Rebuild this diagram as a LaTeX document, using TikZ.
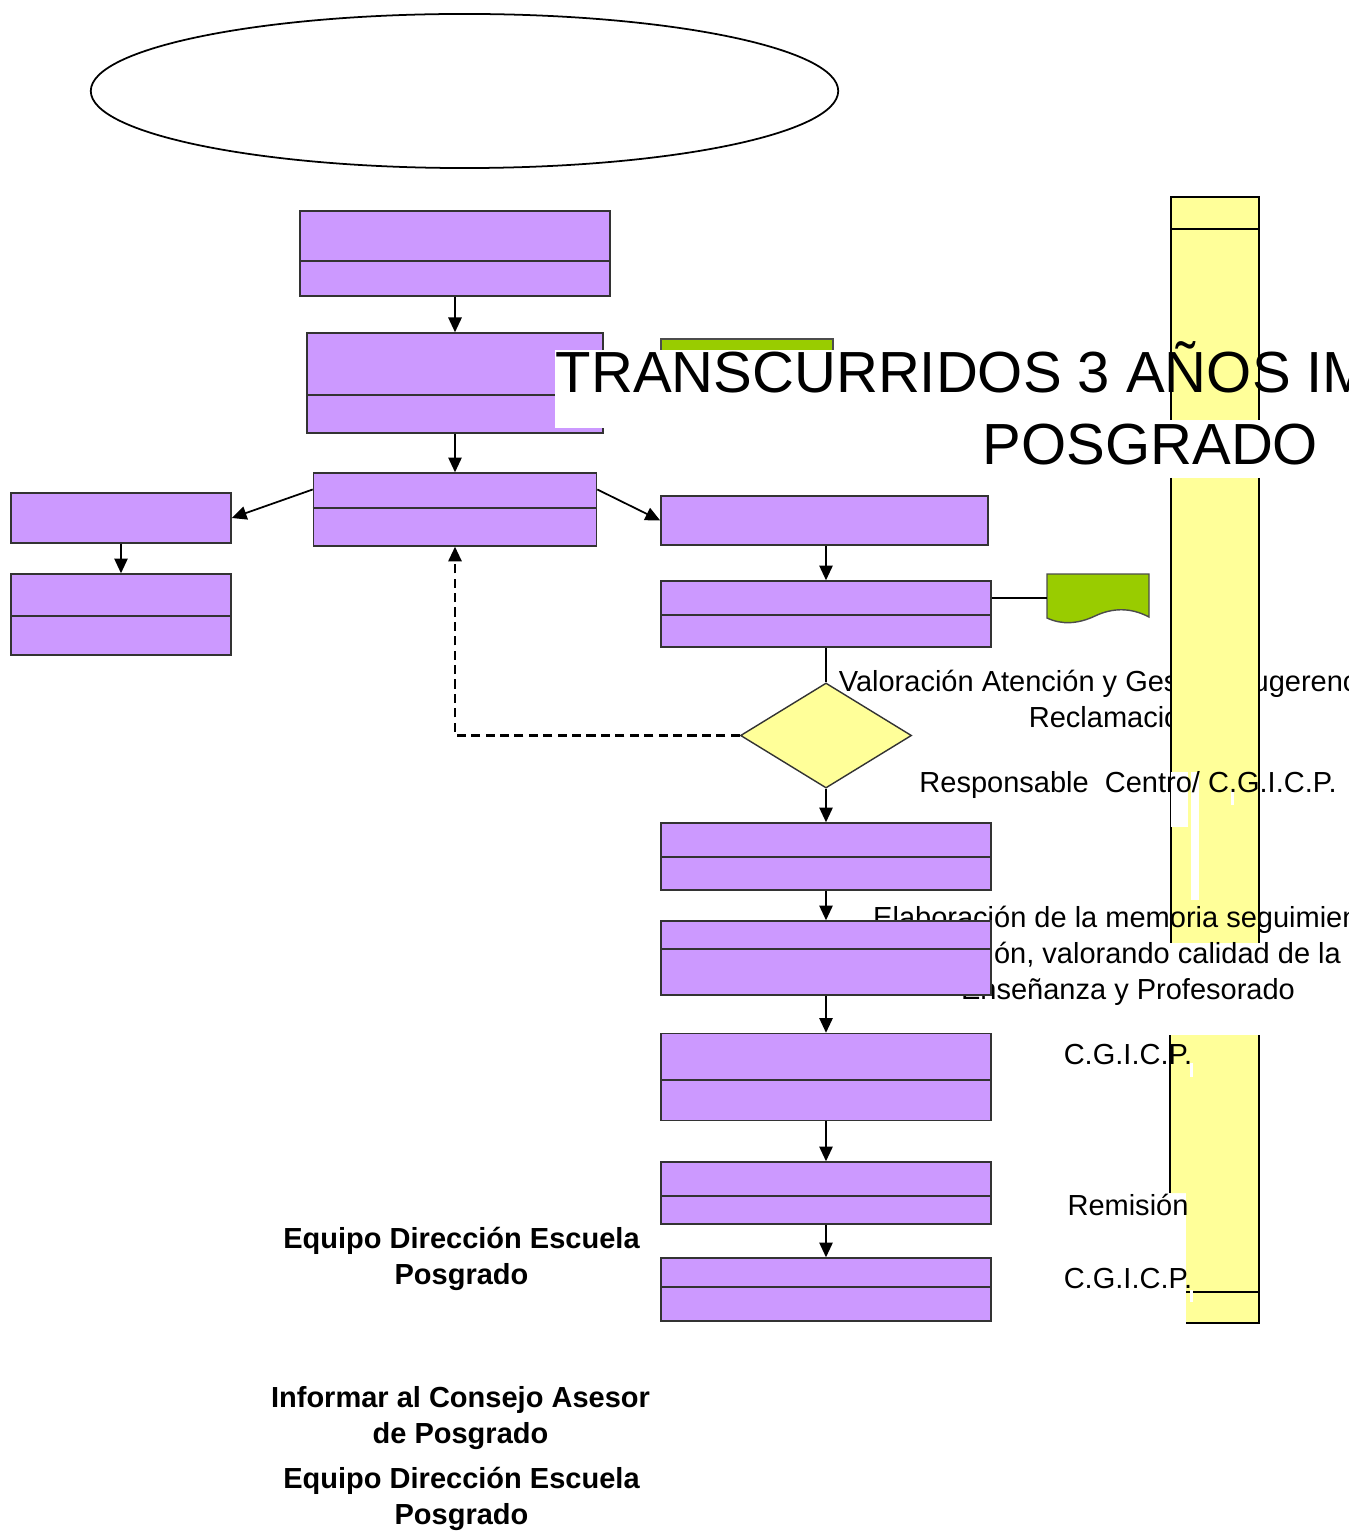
\documentclass[tikz,border=0pt]{standalone}
\usepackage{fontspec}
\setmainfont{Liberation Sans}
\usetikzlibrary{calc,shapes.geometric,arrows.meta}

\definecolor{lila}{HTML}{CC99FF}
\definecolor{amarillo}{HTML}{FFFF99}
\definecolor{verde}{HTML}{99CC00}

\tikzset{
  caja/.style={draw=black!80, fill=lila, line width=0.4pt, inner sep=0pt},
  flecha/.style={-{Triangle[length=4.2pt,width=3.8pt]}, line width=0.5pt},
  txt/.style={font=\fontsize{8.25}{10.1}\selectfont, inner sep=0pt, align=center, anchor=base},
  negrita/.style={txt, font=\fontsize{8.25}{10.1}\selectfont\bfseries},
  titulo/.style={font=\fontsize{16.5}{20.8}\selectfont, inner sep=0pt, anchor=base west},
}

\begin{document}
\begin{tikzpicture}[x=0.01cm, y=-0.01cm]
\useasboundingbox (0,0) rectangle (1348,1531);

% --------- Start ellipse ----------
\draw[line width=0.5pt] (464.5,91) ellipse [x radius=3.735cm, y radius=0.77cm];

% --------- Green tab (mostly hidden by the title) ----------
\fill[verde, draw=black!70, line width=0.4pt] (661,339) rectangle (833,352);

% --------- Upper part of the flow ----------
\node[caja, minimum width=3.10cm, minimum height=0.85cm] (p1) at (455,253.5) {};
\node[caja, minimum width=2.96cm, minimum height=1.00cm] (p2) at (455,383) {};
\node[caja, minimum width=2.83cm, minimum height=0.73cm] (p3) at (455,509.5) {};
\node[caja, minimum width=2.20cm, minimum height=0.50cm] (l1) at (121,518) {};
\node[caja, minimum width=2.20cm, minimum height=0.81cm] (l2) at (121,614.5) {};
\node[caja, minimum width=3.27cm, minimum height=0.49cm] (r1) at (824.5,520.5) {};
\node[caja, minimum width=3.30cm, minimum height=0.66cm] (r2) at (826,614) {};
\node[diamond, draw=black!80, fill=amarillo, line width=0.4pt, inner sep=0pt,
      minimum width=1.71cm, minimum height=1.05cm] (dia) at (826,735.5) {};

\foreach \n/\y in {p1/261, p2/395, p3/508, l2/616, r2/615}
  \draw[black!80, line width=0.4pt] (\n.west |- 0,\y) -- (\n.east |- 0,\y);

\draw[flecha] (p1.south) -- (p2.north);
\draw[flecha] (p2.south) -- (p3.north);
\draw[flecha] ([yshift=0.2cm]p3.west) -- (l1.east);
\draw[flecha] ([yshift=0.2cm]p3.east) -- (r1.west);
\draw[flecha] (l1.south) -- (l2.north);
\draw[flecha] (r1.south -| r2.north) -- (r2.north);
\draw[line width=0.5pt] (r2.south) -- (dia.north);
\draw[flecha, line width=0.6pt, dash pattern=on 2.6pt off 1.5pt] (dia.west) -| (p3.south);

% --------- Document shape beside r2 ----------
\fill[verde, draw=black!70, line width=0.4pt] (1047,574) -- (1149,574) -- (1149,617)
  .. controls (1130,607) and (1112,608) .. (1095,616)
  .. controls (1078,624) and (1062,625) .. (1047,618) -- cycle;
\coordinate (doc) at (1047,598);
\draw[line width=0.5pt] (doc) -- (doc -| r2.east);

% --------- Text lying under the lane ----------
\node[txt] (val) at (1128,727) {Valoración Atención y Gestión Sugerencias y\\Reclamaciones};

% --------- White band of the title ----------
\fill[white] (555,350) rectangle (1348,428);

% --------- Yellow lane (broken in pieces) ----------
\fill[amarillo] (1171,197) rectangle (1259,420);
\draw[line width=0.4pt] (1171,420) -- (1171,197) -- (1259,197) -- (1259,420);
\draw[line width=0.4pt] (1171,229) -- (1259,229);
\fill[amarillo] (1171,478) rectangle (1259,943);
\draw[line width=0.4pt] (1171,478) -- (1171,943) (1259,478) -- (1259,943);
\fill[amarillo] (1170,1035) -- (1259,1035) -- (1259,1323) -- (1186,1323) -- (1186,1193) -- (1170,1193) -- cycle;
\draw[line width=0.4pt] (1170,1035) -- (1170,1193) (1259,1035) -- (1259,1323) -- (1186,1323);
\draw[line width=0.4pt] (1186,1292) -- (1259,1292);

% white gaps left in the lane
\fill[white] (1171,772) rectangle (1188,827);
\fill[white] (1191,772) rectangle (1199,900);
\fill[white] (1231,790) rectangle (1234,805);
\fill[white] (1190,1063) rectangle (1193,1077);
\fill[white] (1190,1290) rectangle (1193,1302);

% --------- Title ----------
\node[titulo] (tit1) at (555,393) {TRANSCURRIDOS 3 AÑOS IM};
\node[titulo] (tit2) at (982,465) {POSGRADO};

% --------- Right-hand texts ----------
\node[txt] (resp) at (1128,792) {Responsable \ Centro/ C.G.I.C.P.};
\node[txt] (elab) at (1128,999) {Elaboración de la memoria seguimiento\\Revisión, valorando calidad de la\\Enseñanza y Profesorado};
\node[txt] (cg1) at (1128,1064) {C.G.I.C.P.};
\node[txt] (rem) at (1128,1215) {Remisión};
\node[txt] (cg2) at (1128,1288) {C.G.I.C.P.};

% --------- Left-hand texts ----------
\node[negrita] (eq1) at (461.5,1284) {Equipo Dirección Escuela\\Posgrado};
\node[negrita] (inf) at (460.5,1443) {Informar al Consejo Asesor\\de Posgrado};
\node[negrita] (eq2) at (461.5,1524) {Equipo Dirección Escuela\\Posgrado};

% --------- Lower part of the flow ----------
\node[caja, minimum width=3.30cm, minimum height=0.67cm] (r3) at (826,856.5) {};
\node[caja, minimum width=3.30cm, minimum height=0.74cm] (r4) at (826,958) {};
\node[caja, minimum width=3.30cm, minimum height=0.87cm] (r5) at (826,1077) {};
\node[caja, minimum width=3.30cm, minimum height=0.62cm] (r6) at (826,1193) {};
\node[caja, minimum width=3.30cm, minimum height=0.63cm] (r7) at (826,1289.5) {};

\foreach \n/\y in {r3/857, r4/949, r5/1080, r6/1196, r7/1287}
  \draw[black!80, line width=0.4pt] (\n.west |- 0,\y) -- (\n.east |- 0,\y);

\draw[flecha] (dia.south) -- (r3.north);
\draw[flecha] (r3.south) -- (r4.north);
\draw[flecha] (r4.south) -- (r5.north);
\draw[flecha] (r5.south) -- (r6.north);
\draw[flecha] (r6.south) -- (r7.north);

\end{tikzpicture}
\end{document}
